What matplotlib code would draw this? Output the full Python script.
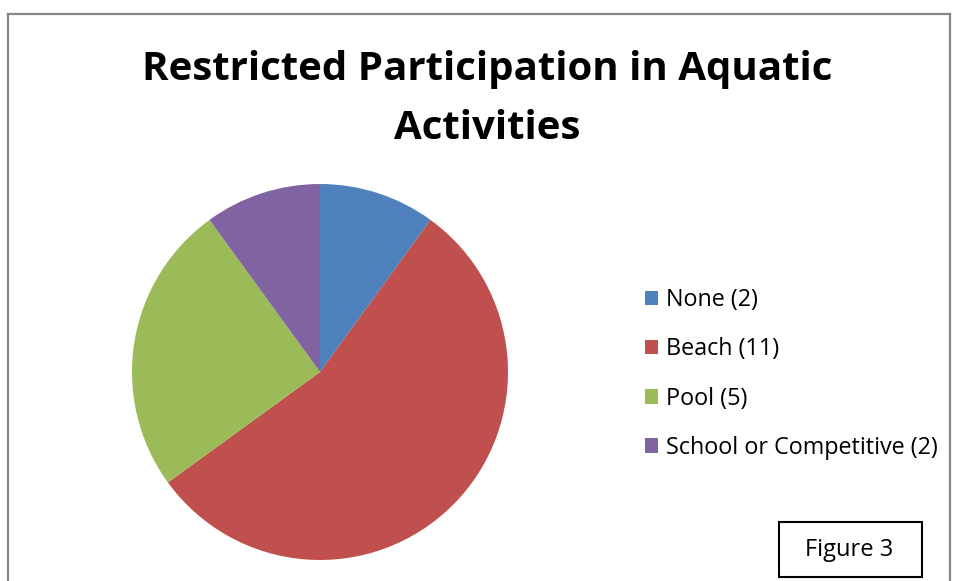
import matplotlib.pyplot as plt
from matplotlib.patches import Rectangle
from matplotlib.lines import Line2D

# chart data
categories = ['None', 'Beach', 'Pool', 'School or Competitive']
counts = [2, 11, 5, 2]
colors = ['#4F81BD', '#C0504D', '#9BBB59', '#8064A2']
title = 'Restricted Participation in Aquatic\nActivities'

W, H = 955, 581
fig = plt.figure(figsize=(W / 100, H / 100), dpi=100)
plt.rcParams['font.family'] = ['Open Sans', 'DejaVu Sans']

# pie axes: centre (320, 372), radius 188 px
cx, cy, r = 320, 372, 188
ax = fig.add_axes([(cx - r) / W, (H - cy - r) / H, 2 * r / W, 2 * r / H])
wedges, _ = ax.pie(counts, colors=colors, startangle=90, counterclock=False,
                   wedgeprops=dict(linewidth=0))
ax.set_xlim(-1, 1)
ax.set_ylim(-1, 1)
ax.set_aspect('equal')

# title
fig.text(487 / W, 1 - 99 / H, title, ha='center', va='center',
         fontsize=29, fontweight='bold', linespacing=1.65)

# legend
labels = [f'{c} ({n})' for c, n in zip(categories, counts)]
fig.legend(wedges, labels, loc='center left',
           bbox_to_anchor=(633 / W, 1 - 374 / H), frameon=False,
           fontsize=16.8, handlelength=0.57, handleheight=0.57,
           handletextpad=0.35, labelspacing=1.08, borderpad=0)

# outer frame (bottom edge is cut off)
fc = '#868686'
fig.add_artist(Line2D([8 / W, 8 / W], [0, 1 - 14 / H], color=fc, lw=1.6))
fig.add_artist(Line2D([8 / W, 950 / W], [1 - 14 / H, 1 - 14 / H], color=fc, lw=1.6))
fig.add_artist(Line2D([950 / W, 950 / W], [0, 1 - 14 / H], color=fc, lw=1.6))

# "Figure 3" box
fig.add_artist(Rectangle((779 / W, 1 - 577 / H), 143 / W, 55 / H,
                         fill=False, edgecolor='black', lw=1.5,
                         transform=fig.transFigure))
fig.text(849 / W, 1 - 550 / H, 'Figure 3', ha='center', va='center', fontsize=17)

fig.savefig('out.png', dpi=100)
